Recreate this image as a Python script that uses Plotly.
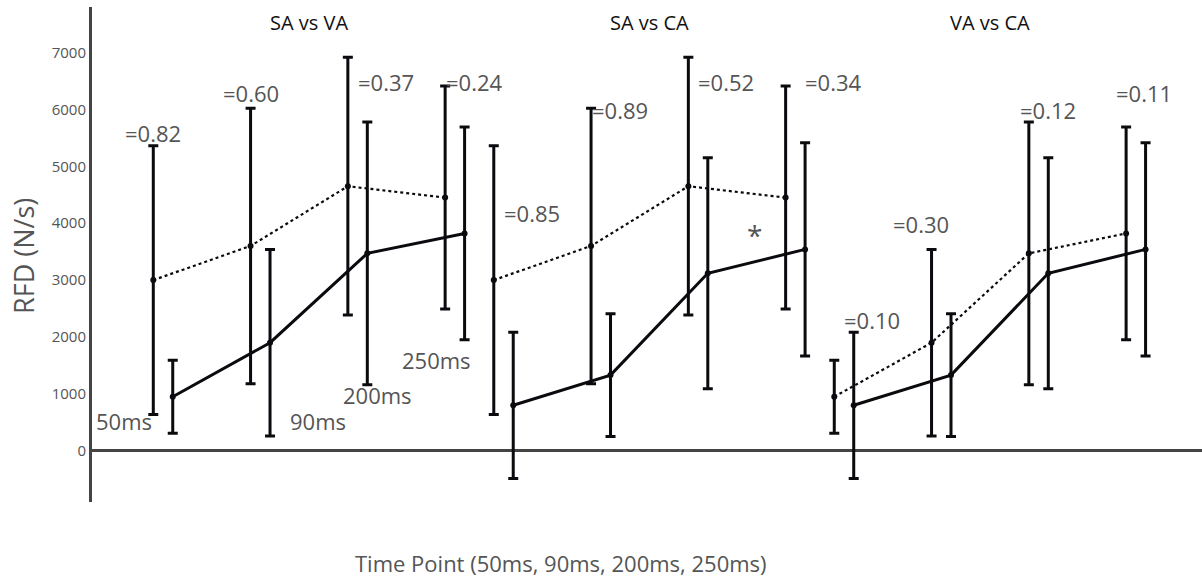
import plotly.graph_objects as go

# ---- data (RFD in N/s) ----
time_labels = ["50ms", "90ms", "200ms", "250ms"]
groups = {
    "SA": {"mean": [3000, 3600, 4650, 4450], "sd": [2360, 2420, 2265, 1960]},
    "VA": {"mean": [950, 1900, 3470, 3820], "sd": [640, 1640, 2310, 1870]},
    "CA": {"mean": [800, 1330, 3120, 3540], "sd": [1285, 1080, 2030, 1875]},
}
comparisons = [("SA", "VA"), ("SA", "CA"), ("VA", "CA")]
panel_titles = ["SA vs VA", "SA vs CA", "VA vs CA"]
effect_labels = [
    ["=0.82", "=0.60", "=0.37", "=0.24"],
    ["=0.85", "=0.89", "=0.52", "=0.34"],
    ["=0.10", "=0.30", "=0.12", "=0.11"],
]

# ---- layout helpers ----
panel_gap = 3.5
second_offset = 0.2
ink = "rgb(12,10,14)"
grey = "#555"
font = "Open Sans"

# label positions (x within whole axis, y in data units)
effect_pos = [
    [(0.0, 5580), (1.0, 6290), (2.39, 6490), (3.3, 6490)],
    [(3.89, 4180), (4.8, 5990), (5.89, 6480), (6.99, 6480)],
    [(7.39, 2300), (7.89, 3985), (9.2, 5990), (10.18, 6290)],
]
time_label_pos = [(-0.3, 520), (1.69, 520), (2.30, 980), (2.91, 1595)]
star_pos = (6.18, 3800)

fig = go.Figure()
for p, (a, b) in enumerate(comparisons):
    base = p * panel_gap
    for g, dash, off in [(a, "dot", 0.0), (b, "solid", second_offset)]:
        xs = [base + i + off for i in range(len(time_labels))]
        fig.add_trace(go.Scatter(
            x=xs, y=groups[g]["mean"], mode="lines+markers",
            line=dict(color=ink, width=2.2 if dash == "dot" else 3, dash=dash),
            marker=dict(color=ink, size=6),
            error_y=dict(type="data", array=groups[g]["sd"], visible=True,
                         color=ink, thickness=3, width=5),
            showlegend=False, name=g,
        ))

annotations = []
for p in range(3):
    annotations.append(dict(x=p * panel_gap + 1.6, y=7535, text=panel_titles[p],
                            showarrow=False, font=dict(family=font, size=20, color="#111"),
                            xref="x", yref="y"))
    for i, txt in enumerate(effect_labels[p]):
        x, y = effect_pos[p][i]
        annotations.append(dict(x=x, y=y, text=txt, showarrow=False,
                                font=dict(family=font, size=22, color=grey),
                                xref="x", yref="y"))
for i, txt in enumerate(time_labels):
    x, y = time_label_pos[i]
    annotations.append(dict(x=x, y=y, text=txt, showarrow=False,
                            font=dict(family=font, size=22, color=grey),
                            xref="x", yref="y"))
annotations.append(dict(x=star_pos[0], y=star_pos[1], text="*", showarrow=False,
                        font=dict(family=font, size=28, color=grey),
                        xref="x", yref="y"))
annotations.append(dict(x=0.4225, y=-0.123, xref="paper", yref="paper",
                        xanchor="center", yanchor="middle",
                        text="Time Point (50ms, 90ms, 200ms, 250ms)", showarrow=False,
                        font=dict(family=font, size=22, color=grey)))
annotations.append(dict(x=-0.0613, y=0.497, xref="paper", yref="paper",
                        xanchor="center", yanchor="middle",
                        text="RFD (N/s)", textangle=-90, showarrow=False,
                        font=dict(family=font, size=27, color=grey)))

fig.update_layout(
    width=1202, height=582,
    margin=dict(l=92, r=0, t=7, b=80),
    paper_bgcolor="white", plot_bgcolor="white",
    annotations=annotations,
    xaxis=dict(range=[-0.63, 10.78], showticklabels=False, showgrid=False,
               zeroline=False, showline=False, ticks=""),
    yaxis=dict(range=[-900, 7800], dtick=1000, tick0=0, showgrid=False,
               zeroline=True, zerolinecolor="#444", zerolinewidth=3,
               showline=True, linecolor="#444", linewidth=3, ticks="",
               tickfont=dict(family=font, size=15, color=grey)),
)
fig.write_html("out.html")
